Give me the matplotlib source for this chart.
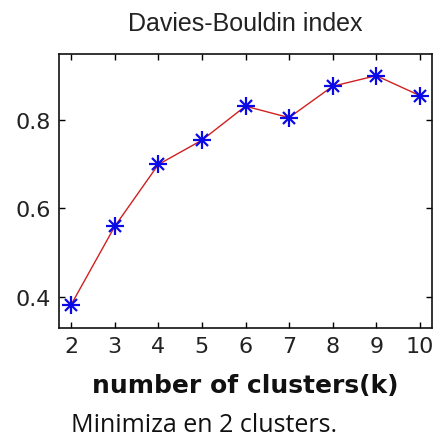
import matplotlib
matplotlib.use("Agg")
import matplotlib.pyplot as plt

# Davies-Bouldin index for each number of clusters
k_values = [2, 3, 4, 5, 6, 7, 8, 9, 10]
db_index = [0.382, 0.559, 0.699, 0.754, 0.831, 0.805, 0.876, 0.900, 0.855]
y_ticks = [0.4, 0.6, 0.8]
y_tick_labels = ["0.4", "0.6", "0.8"]

fig = plt.figure(figsize=(4.34, 4.39), dpi=100)
ax = fig.add_axes([59 / 434, 1 - 329 / 439, (432 - 59) / 434, (329 - 55) / 439])

ax.plot(k_values, db_index, color="#d02020", lw=1.0, zorder=2)
# asterisk marker built from a plus and a cross
ax.plot(k_values, db_index, ls="none", marker="+", ms=13, mew=1.6, color="#0a0ae6", zorder=3)
ax.plot(k_values, db_index, ls="none", marker="x", ms=8.5, mew=1.6, color="#0a0ae6", zorder=3)

ax.set_xlim(1.72, 10.28)
ax.set_ylim(0.329, 0.949)
ax.set_xticks(k_values)
ax.set_yticks(y_ticks)
ax.set_yticklabels(y_tick_labels)

for lbl in ax.get_xticklabels() + ax.get_yticklabels():
    lbl.set_fontfamily("DejaVu Sans")
    lbl.set_fontsize(16)
    lbl.set_color("#222222")

ax.tick_params(direction="in", length=4, width=1, top=True, right=True, pad=6)
for s in ax.spines.values():
    s.set_linewidth(1.2)
    s.set_color("#111111")

ax.set_title("Davies-Bouldin index", family="Liberation Sans", fontsize=18,
             color="#222222", pad=17)
ax.set_xlabel("number of clusters(k)", family="DejaVu Sans", fontweight="bold",
              fontsize=18, color="#111111", labelpad=12)

fig.text(71 / 434, 1 - 432 / 439, "Minimiza en 2 clusters.", family="Open Sans",
         fontsize=18, color="#111111", va="baseline", ha="left")

fig.savefig("out.png", dpi=100, facecolor="white")
